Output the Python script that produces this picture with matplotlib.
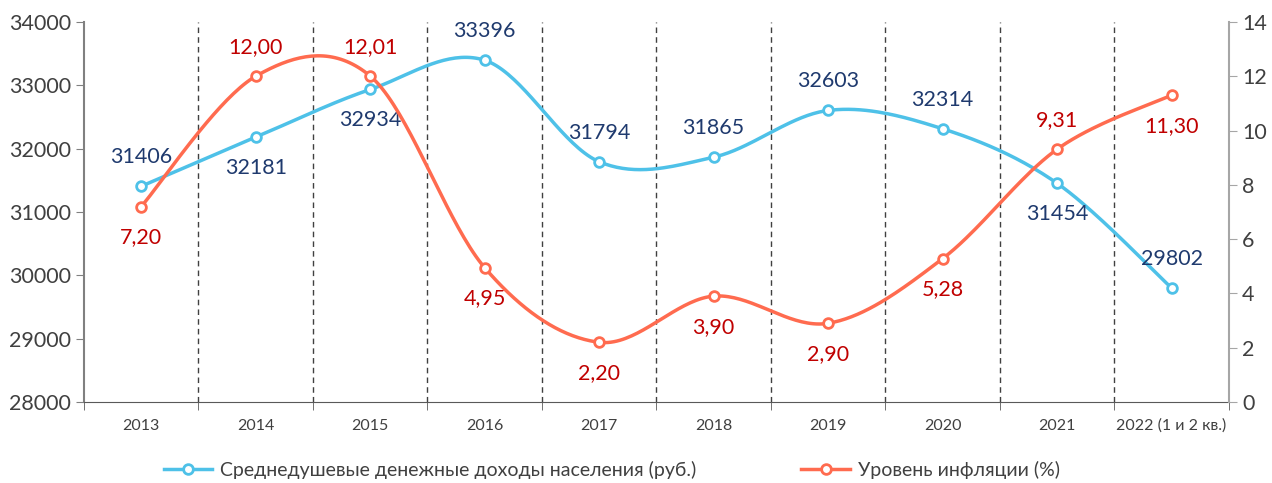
import numpy as np
import matplotlib.pyplot as plt
from matplotlib.lines import Line2D

plt.rcParams['font.family'] = ['Lato', 'DejaVu Sans']

years = ['2013', '2014', '2015', '2016', '2017', '2018', '2019', '2020', '2021', '2022 (1 и 2 кв.)']
income = [31406, 32181, 32934, 33396, 31794, 31865, 32603, 32314, 31454, 29802]
inflation = [7.20, 12.00, 12.01, 4.95, 2.20, 3.90, 2.90, 5.28, 9.31, 11.30]
income_pos = ['up', 'down', 'down', 'up', 'up', 'up', 'up', 'up', 'down', 'up']
infl_pos = ['down', 'up', 'up', 'down', 'down', 'down', 'down', 'down', 'up', 'down']

blue = '#4EC1E8'
red = '#FF6B4F'
blue_txt = '#1F3A6E'
red_txt = '#C00000'


def smooth(x, y, n=40):
    # Excel-like smoothing: bezier segments with catmull-rom control points
    x = np.asarray(x, float)
    y = np.asarray(y, float)
    px = np.concatenate([[x[0]], x, [x[-1]]])
    py = np.concatenate([[y[0]], y, [y[-1]]])
    xs, ys = [], []
    t = np.linspace(0, 1, n)
    for i in range(len(x) - 1):
        p0 = np.array([px[i + 1], py[i + 1]])
        p3 = np.array([px[i + 2], py[i + 2]])
        c1 = p0 + (np.array([px[i + 2], py[i + 2]]) - np.array([px[i], py[i]])) / 6
        c2 = p3 - (np.array([px[i + 3], py[i + 3]]) - np.array([px[i + 1], py[i + 1]])) / 6
        b = ((1 - t) ** 3)[:, None] * p0 + (3 * (1 - t) ** 2 * t)[:, None] * c1 \
            + (3 * (1 - t) * t ** 2)[:, None] * c2 + (t ** 3)[:, None] * p3
        xs.extend(b[:, 0])
        ys.extend(b[:, 1])
    return np.array(xs), np.array(ys)


x = np.arange(len(years))

fig = plt.figure(figsize=(12.72, 4.83), dpi=100)
ax = fig.add_axes([0.066, 0.1677, 0.9, 0.7868])
ax2 = ax.twinx()

ax.set_xlim(-0.5, len(years) - 0.5)
ax.set_ylim(28000, 34000)
ax2.set_ylim(0, 14)
ax.set_yticks(np.arange(28000, 34001, 1000))
ax2.set_yticks(np.arange(0, 15, 2))

for b in np.arange(0.5, len(years) - 1, 1):
    ax.axvline(b, color='#404040', lw=1, ls=(0, (4, 3)), zorder=1)

sx, sy = smooth(x, income)
ax.plot(sx, sy, color=blue, lw=2.5, zorder=3)
ax.plot(x, income, ls='none', marker='o', ms=7, mfc='white', mec=blue, mew=2, zorder=4)

rx, ry = smooth(x, inflation)
ax2.plot(rx, ry, color=red, lw=2.5, zorder=3)
ax2.plot(x, inflation, ls='none', marker='o', ms=7, mfc='white', mec=red, mew=2, zorder=4)

for xi, v, p in zip(x, income, income_pos):
    off = 21 if p == 'up' else -22
    ax.annotate(str(v), (xi, v), xytext=(0, off), textcoords='offset points',
                ha='center', va='center', fontsize=15.5, color=blue_txt)
for xi, v, p in zip(x, inflation, infl_pos):
    off = 21 if p == 'up' else -22
    ax2.annotate(f'{v:.2f}'.replace('.', ','), (xi, v), xytext=(0, off), textcoords='offset points',
                 ha='center', va='center', fontsize=15.5, color=red_txt)

ax.set_xticks(x)
ax.set_xticklabels(years, fontsize=11.5, color='#404040')
ax.set_xticks(np.arange(-0.5, len(years), 1), minor=True)
ax.tick_params(axis='x', which='major', length=0, pad=12)
ax.tick_params(axis='x', which='minor', length=6, color='#595959')
ax.tick_params(axis='y', labelsize=15.5, colors='#404040', length=6)
ax.tick_params(axis='y', color='#808080')
ax2.tick_params(axis='y', labelsize=15.5, labelcolor='#404040', color='#A6A6A6', length=6)

for a in (ax, ax2):
    a.spines['top'].set_visible(False)
ax.spines['left'].set_color('#808080')
ax.spines['left'].set_linewidth(1.5)
ax.spines['bottom'].set_color('#595959')
ax.spines['right'].set_visible(False)
ax2.spines['left'].set_visible(False)
ax2.spines['bottom'].set_visible(False)
ax2.spines['right'].set_color('#A6A6A6')
ax2.spines['right'].set_linewidth(1.5)

handles = [
    Line2D([], [], color=blue, lw=2.5, marker='o', ms=7, mfc='white', mec=blue, mew=2),
    Line2D([], [], color=red, lw=2.5, marker='o', ms=7, mfc='white', mec=red, mew=2),
]
fig.legend(handles, ['Среднедушевые денежные доходы населения (руб.)', 'Уровень инфляции (%)'],
           loc='center', bbox_to_anchor=(0.481, 0.027), ncol=2, frameon=False,
           fontsize=14, columnspacing=5.4, handlelength=2.5, handletextpad=0.4,
           labelcolor='#404040')

fig.savefig('out.png', dpi=100)
